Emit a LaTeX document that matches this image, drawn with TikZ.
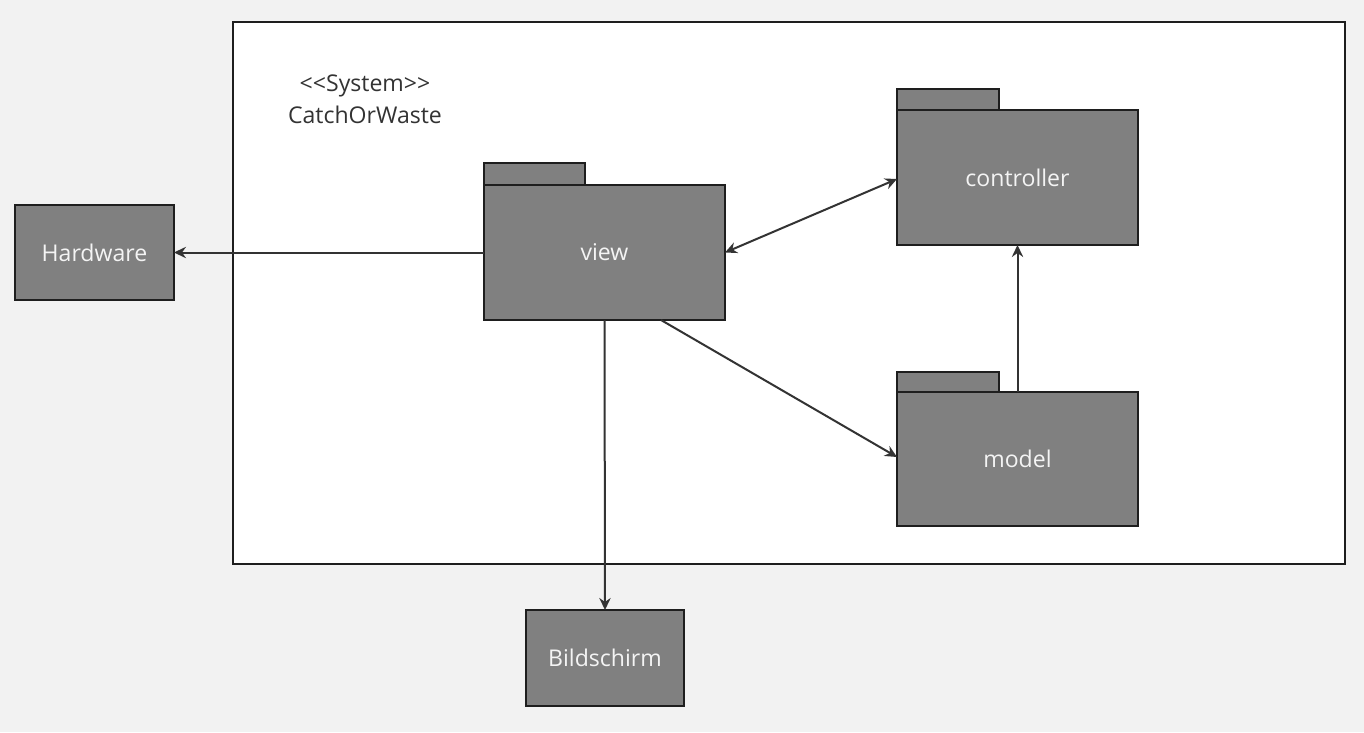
\documentclass[tikz,border=0pt]{standalone}
\usepackage{fontspec}
\setmainfont{Open Sans}
\usetikzlibrary{arrows.meta}
\definecolor{bg}{HTML}{F2F2F2}
\definecolor{pkg}{HTML}{808080}
\definecolor{edgec}{HTML}{1E1E1E}
\definecolor{linec}{HTML}{333333}
\definecolor{labc}{HTML}{F4F4F4}
\begin{document}
\begin{tikzpicture}[x=0.75pt,y=-0.75pt,
  lbl/.style={font=\fontsize{17.3}{24}\selectfont},
  box/.style={draw=edgec,fill=pkg,line width=2.1pt,text=labc,lbl,inner sep=0pt,outer sep=0pt},
  tabbox/.style={draw=edgec,fill=pkg,line width=1.5pt,inner sep=0pt,outer sep=0pt},
  conn/.style={draw=linec,line width=1.5pt,-{Stealth[length=9pt,width=8.5pt,inset=3pt]}},
  biconn/.style={draw=linec,line width=1.5pt,{Stealth[length=9pt,width=8.5pt,inset=3pt]}-{Stealth[length=9pt,width=8.5pt,inset=3pt]}}]
% background
\path[fill=bg] (0,0) rectangle (1364,732);
% system frame
\node[draw=edgec,fill=white,line width=2.1pt,minimum width=1112*0.75pt,minimum height=542*0.75pt,inner sep=0pt] (sys) at (789,293) {};
\node[lbl,text=linec,align=center] (systxt) at (365,99) {<{}<System>{}>\\CatchOrWaste};
% package tabs
\node[tabbox,minimum width=101*0.75pt,minimum height=22*0.75pt] (viewtab) at (534.5,174) {};
\node[tabbox,minimum width=102*0.75pt,minimum height=22*0.75pt] (ctrltab) at (948,99.5) {};
\node[tabbox,minimum width=102*0.75pt,minimum height=21*0.75pt] (modeltab) at (948,382) {};
% package bodies
\node[box,minimum width=241*0.75pt,minimum height=135*0.75pt] (view) at (604.5,252.5) {view};
\node[box,minimum width=241*0.75pt,minimum height=135*0.75pt] (controller) at (1017.5,177.5) {controller};
\node[box,minimum width=241*0.75pt,minimum height=134*0.75pt] (model) at (1017.5,459) {model};
% external boxes
\node[box,minimum width=159*0.75pt,minimum height=95*0.75pt] (hw) at (94.5,252.5) {Hardware};
\node[box,minimum width=158*0.75pt,minimum height=96*0.75pt] (screen) at (605,658) {Bildschirm};
% connectors
\draw[conn] (view.west) -- (hw.east);
\draw[biconn] (view.east) -- (controller.west |- 0,179);
\draw[conn] (view.south) -- (screen.north);
\draw[conn] (view.south -| 661,0) -- (model.west |- 0,457);
\draw[conn] (model.north) -- (controller.south);
\end{tikzpicture}
\end{document}
